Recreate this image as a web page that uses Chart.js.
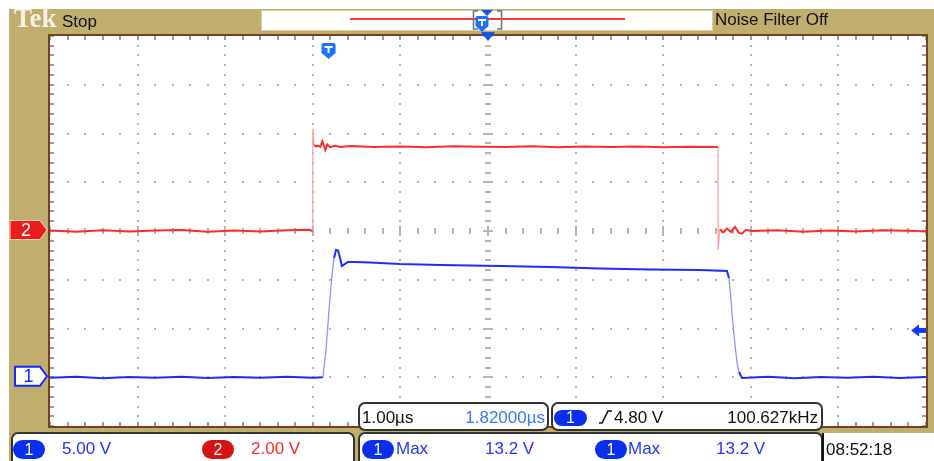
<!DOCTYPE html>
<html>
<head>
<meta charset="utf-8">
<script src="https://cdn.jsdelivr.net/npm/chart.js@4.4.1/dist/chart.umd.min.js"></script>
<style>
html,body{margin:0;padding:0;background:#fff;}
#wrap{position:relative;width:934px;height:461px;overflow:hidden;background:#fff;font-family:"Liberation Sans",Arial,sans-serif;}
#tan{position:absolute;left:9px;top:9px;width:925px;height:452px;background:#bfae6d;}
#bar{position:absolute;left:261px;top:10px;width:450px;height:19px;background:#fff;border:1px solid #d8cea2;}
#rec{position:absolute;left:350px;top:18px;width:275px;height:2px;background:#ff3636;}
#brk{position:absolute;left:471px;top:10px;}
#cv{position:absolute;left:0;top:0;z-index:2;}
.t{position:absolute;white-space:nowrap;line-height:17px;font-size:17px;z-index:4;}
.box{position:absolute;background:#fff;border:2px solid #333;border-radius:7px;box-sizing:border-box;z-index:3;}
.pill{position:absolute;color:#fff;border-radius:10px;text-align:center;font-size:16px;z-index:4;}
.blue{color:#2036ff;}
.lblue{color:#3a78ff;}
.red{color:#ff2a2a;}
</style>
</head>
<body>
<div id="wrap">
  <div id="tan"></div>
  <div id="bar"></div>
  <div id="rec"></div>
  <svg id="brk" width="34" height="22" style="z-index:1">
    <path d="M7,1 H2.5 V19 H7 M26,1 H30.5 V19 H26" stroke="#6d7a82" stroke-width="1.6" fill="none"/>
  </svg>
  <canvas id="cv" width="934" height="461"></canvas>

  <div class="t" style="left:14px;top:5px;font-family:'Liberation Serif',serif;font-weight:bold;font-size:27px;line-height:27px;color:#f4f0e4;">Tek</div>
  <div class="t" style="left:62px;top:13px;color:#111;">Stop</div>
  <div class="t" style="left:715px;top:11px;color:#111;">Noise Filter Off</div>

  <div class="box" style="left:11px;top:432px;width:344px;height:40px;"></div>
  <div class="box" style="left:358px;top:402px;width:191px;height:29px;"></div>
  <div class="box" style="left:551px;top:402px;width:272px;height:29px;"></div>
  <div class="box" style="left:358px;top:432px;width:465px;height:40px;"></div>
  <div style="position:absolute;left:822px;top:433px;width:112px;height:30px;background:#fff;border-left:2px solid #111;z-index:3;"></div>

  <div class="pill" style="left:13px;top:440px;width:32px;height:19px;line-height:19px;background:#0b2fee;">1</div>
  <div class="t blue" style="left:62px;top:439.5px;">5.00 V</div>
  <div class="pill" style="left:202px;top:440px;width:32px;height:19px;line-height:19px;background:#d41414;">2</div>
  <div class="t red" style="left:251px;top:439.5px;">2.00 V</div>

  <div class="t" style="left:362px;top:408.5px;color:#111;">1.00µs</div>
  <div class="t lblue" style="right:389px;top:408.5px;">1.82000µs</div>

  <div class="pill" style="left:554px;top:410px;width:33px;height:16px;line-height:16px;background:#0b2fee;">1</div>
  <svg style="position:absolute;left:598px;top:409px;z-index:4" width="16" height="16"><path d="M1,14 L4,14 L10,2 L14,2" stroke="#111" stroke-width="1.6" fill="none"/></svg>
  <div class="t" style="left:614px;top:408.5px;color:#111;">4.80 V</div>
  <div class="t" style="right:116px;top:408.5px;color:#111;">100.627kHz</div>

  <div class="pill" style="left:362px;top:440px;width:32px;height:19px;line-height:19px;background:#0b2fee;">1</div>
  <div class="t blue" style="left:396px;top:439.5px;">Max</div>
  <div class="t blue" style="left:485px;top:439.5px;">13.2 V</div>
  <div class="pill" style="left:595px;top:440px;width:32px;height:19px;line-height:19px;background:#0b2fee;">1</div>
  <div class="t blue" style="left:628px;top:439.5px;">Max</div>
  <div class="t blue" style="left:716px;top:439.5px;">13.2 V</div>

  <div class="t" style="left:826px;top:441px;color:#111;">08:52:18</div>
</div>

<script>
// ---- scope settings ----
const ch1VoltsPerDiv = 5.0;
const ch2VoltsPerDiv = 2.0;
const ch1OffsetDiv = -3;   // ch1 ground marker position (divisions from centre)
const ch2OffsetDiv = 0;    // ch2 ground marker position
const triggerLevel = 4.80; // V on ch1
const triggerTime = -1.82; // µs relative to screen centre

// ---- channel 2 (red), time in µs, volts ----
const timeCh2 = [-5.0, -4.7, -4.4, -4.1, -3.8, -3.5, -3.2, -2.9, -2.6, -2.3, -2.05, -2.0, -2.0,
  -1.986, -1.963, -1.94, -1.914, -1.891, -1.857, -1.834, -1.8, -1.743, -1.686, -1.571, -1.3, -1.0,
  -0.7, -0.4, -0.1, 0.2, 0.5, 0.8, 1.1, 1.4, 1.7, 2.0, 2.3, 2.6, 2.626, 2.626, 2.648, 2.683, 2.728,
  2.774, 2.82, 2.865, 2.9, 2.945, 3.014, 3.3, 3.6, 3.9, 4.2, 4.5, 4.8, 5.0];
const voltsCh2 = [0.02, -0.03, 0.03, -0.02, 0.02, 0.04, -0.03, 0.02, -0.02, 0.03, 0.05, 0.0, 4.2,
  3.53, 3.47, 3.5, 3.45, 3.68, 3.32, 3.55, 3.44, 3.5, 3.45, 3.49, 3.45, 3.47,
  3.44, 3.48, 3.46, 3.45, 3.48, 3.44, 3.47, 3.45, 3.47, 3.44, 3.46, 3.45, 3.46, -0.78, 0.08, -0.06, 0.1,
  -0.04, 0.17, -0.08, -0.1, 0.05, 0.0, 0.03, -0.03, 0.02, -0.02, 0.03, 0.01, -0.02];

// ---- channel 1 (blue), time in µs, volts ----
const timeCh1 = [-5.0, -4.7, -4.4, -4.1, -3.8, -3.5, -3.2, -2.9, -2.6, -2.3, -2.0, -1.884, -1.849,
  -1.815, -1.781, -1.758, -1.735, -1.712, -1.689, -1.667, -1.632, -1.598, -1.518, -1.347, -1.005,
  -0.548, 0.137, 0.708, 1.279, 1.849, 2.42, 2.728, 2.751, 2.774, 2.797, 2.82, 2.842, 2.865, 2.9,
  3.2, 3.5, 3.8, 4.1, 4.4, 4.7, 5.0];
const voltsCh1 = [-0.05, 0.05, -0.1, 0.02, -0.06, 0.04, -0.08, 0.03, -0.05, 0.06, -0.04, 0.0, 2.8,
  6.9, 10.5, 12.24, 13.06, 13.0, 12.24, 11.41, 11.62, 11.83, 11.83, 11.77, 11.62,
  11.52, 11.41, 11.31, 11.16, 11.06, 11.0, 10.9, 10.18, 7.93, 5.36, 3.31, 1.56, 0.54, -0.08,
  0.04, -0.1, 0.03, -0.06, 0.05, -0.08, 0.02];

const toPoints = (ts, vs, vpd, off) => ts.map((t, i) => ({x: t, y: vs[i] / vpd + off}));

function steep(ctx) {
  const dx = Math.abs(ctx.p1.x - ctx.p0.x), dy = Math.abs(ctx.p1.y - ctx.p0.y);
  return dy > 9 && dy > 2.5 * dx;
}

const scopePlugin = {
  id: 'scope',
  beforeDraw(chart) {
    const {ctx, chartArea: a} = chart;
    const xs = chart.scales.x, ys = chart.scales.y;
    ctx.save();
    ctx.fillStyle = '#ffffff';
    ctx.fillRect(a.left, a.top, a.right - a.left, a.bottom - a.top);
    // graticule dots
    ctx.fillStyle = '#b3b3c2';
    for (let i = -4; i <= 4; i++) {
      if (i === 0) continue;
      const px = Math.round(xs.getPixelForValue(i));
      for (let j = 0; j <= 40; j++) {
        const py = Math.round(ys.getPixelForValue(-4 + j * 0.2));
        ctx.fillRect(px - 1, py - 1, 2, 2);
      }
    }
    for (let j = -3; j <= 3; j++) {
      if (j === 0) continue;
      const py = Math.round(ys.getPixelForValue(j));
      for (let k = 0; k <= 50; k++) {
        const px = Math.round(xs.getPixelForValue(-5 + k * 0.2));
        ctx.fillRect(px - 1, py - 1, 2, 2);
      }
    }
    // centre cross
    const cx = Math.round(xs.getPixelForValue(0)), cy = Math.round(ys.getPixelForValue(0));
    for (let k = 0; k <= 50; k++) {
      const v = -5 + k * 0.2;
      const px = Math.round(xs.getPixelForValue(v));
      const major = Math.abs(v - Math.round(v)) < 1e-6;
      const h = major ? 5 : 3;
      ctx.fillRect(px - 1, cy - h, 2, 2 * h);
    }
    for (let j = 0; j <= 40; j++) {
      const v = -4 + j * 0.2;
      const py = Math.round(ys.getPixelForValue(v));
      const major = Math.abs(v - Math.round(v)) < 1e-6;
      const w = major ? 5 : 3;
      ctx.fillRect(cx - w, py - 1, 2 * w, 2);
    }
    // edge ticks
    ctx.fillStyle = '#9b9bab';
    for (let k = 0; k <= 50; k++) {
      const px = Math.round(xs.getPixelForValue(-5 + k * 0.2));
      ctx.fillRect(px - 1, a.top, 2, 4);
      ctx.fillRect(px - 1, a.bottom - 4, 2, 4);
    }
    for (let j = 0; j <= 40; j++) {
      const py = Math.round(ys.getPixelForValue(-4 + j * 0.2));
      ctx.fillRect(a.left, py - 1, 4, 2);
      ctx.fillRect(a.right - 4, py - 1, 4, 2);
    }
    // frame
    ctx.strokeStyle = '#74401d';
    ctx.lineWidth = 2;
    ctx.strokeRect(a.left - 1, a.top - 1, a.right - a.left + 2, a.bottom - a.top + 2);
    ctx.restore();
  },
  afterDatasetsDraw(chart) {
    const {ctx, chartArea: a} = chart;
    const xs = chart.scales.x, ys = chart.scales.y;
    ctx.save();
    // channel ground markers
    function tag(x0, yTip, fill, stroke, lw, txtColor, label) {
      const x1 = 40, xt = 47, h = 19, y0 = yTip - h / 2;
      ctx.beginPath();
      ctx.moveTo(x0, y0); ctx.lineTo(x1, y0); ctx.lineTo(xt, yTip);
      ctx.lineTo(x1, y0 + h); ctx.lineTo(x0, y0 + h); ctx.closePath();
      ctx.fillStyle = fill; ctx.fill();
      ctx.lineWidth = lw; ctx.strokeStyle = stroke; ctx.stroke();
      ctx.fillStyle = txtColor;
      ctx.font = '18px "Liberation Sans", Arial, sans-serif';
      ctx.textAlign = 'center'; ctx.textBaseline = 'middle';
      ctx.fillText(label, (x0 + x1) / 2 + 1, yTip + 1);
    }
    tag(10, ys.getPixelForValue(ch2OffsetDiv) - 1, '#ee1b1b', '#ffcfcf', 1, '#ffffff', '2');
    tag(15, ys.getPixelForValue(ch1OffsetDiv) - 1, '#ffffff', '#1428ff', 2, '#1428ff', '1');

    // trigger level arrow (right edge)
    const ty = ys.getPixelForValue(triggerLevel / ch1VoltsPerDiv + ch1OffsetDiv);
    ctx.fillStyle = '#1535ff';
    ctx.beginPath();
    ctx.moveTo(911, ty); ctx.lineTo(919, ty - 6); ctx.lineTo(919, ty + 6); ctx.closePath(); ctx.fill();
    ctx.fillRect(918, ty - 2.5, a.right - 918, 5);

    // trigger position marker in the graticule
    function shield(x, top, w, h, fill) {
      ctx.beginPath();
      ctx.moveTo(x - w / 2 + 2, top); ctx.lineTo(x + w / 2 - 2, top);
      ctx.quadraticCurveTo(x + w / 2, top, x + w / 2, top + 2);
      ctx.lineTo(x + w / 2, top + h - 6); ctx.lineTo(x, top + h);
      ctx.lineTo(x - w / 2, top + h - 6); ctx.lineTo(x - w / 2, top + 2);
      ctx.quadraticCurveTo(x - w / 2, top, x - w / 2 + 2, top);
      ctx.closePath();
      ctx.fillStyle = fill; ctx.fill();
      ctx.fillStyle = '#ffffff';
      ctx.fillRect(x - 4, top + 3, 8, 2);
      ctx.fillRect(x - 1, top + 3, 2, 7);
    }
    shield(xs.getPixelForValue(triggerTime), 43, 14, 16, '#1f72ff');

    // expansion point (centre) triangle under record bar
    const cx = xs.getPixelForValue(0);
    ctx.fillStyle = '#1554e6';
    ctx.beginPath();
    ctx.moveTo(cx - 7, 32); ctx.lineTo(cx + 7, 32); ctx.lineTo(cx, 41); ctx.closePath(); ctx.fill();

    // markers in record view bar
    ctx.beginPath();
    ctx.moveTo(481, 10); ctx.lineTo(493, 10); ctx.lineTo(487, 16); ctx.closePath(); ctx.fill();
    shield(482, 16, 13, 16, '#1f72ff');
    ctx.restore();
  }
};

new Chart(document.getElementById('cv'), {
  type: 'scatter',
  data: {
    datasets: [
      {
        label: 'CH2',
        data: toPoints(timeCh2, voltsCh2, ch2VoltsPerDiv, ch2OffsetDiv),
        showLine: true,
        borderColor: '#ff2b2b',
        borderWidth: 2,
        pointRadius: 0,
        segment: {
          borderColor: c => steep(c) ? '#ff9c9c' : undefined,
          borderWidth: c => steep(c) ? 1.2 : undefined
        }
      },
      {
        label: 'CH1',
        data: toPoints(timeCh1, voltsCh1, ch1VoltsPerDiv, ch1OffsetDiv),
        showLine: true,
        borderColor: '#1d2cff',
        borderWidth: 2,
        pointRadius: 0,
        segment: {
          borderColor: c => steep(c) ? '#8d95ff' : undefined,
          borderWidth: c => steep(c) ? 1.3 : undefined
        }
      }
    ]
  },
  options: {
    responsive: false,
    animation: false,
    devicePixelRatio: 1,
    layout: {padding: {left: 50, top: 36, right: 8, bottom: 35}},
    scales: {
      x: {type: 'linear', min: -5, max: 5, display: false},
      y: {type: 'linear', min: -4, max: 4, display: false}
    },
    plugins: {legend: {display: false}, tooltip: {enabled: false}}
  },
  plugins: [scopePlugin]
});
</script>
</body>
</html>
